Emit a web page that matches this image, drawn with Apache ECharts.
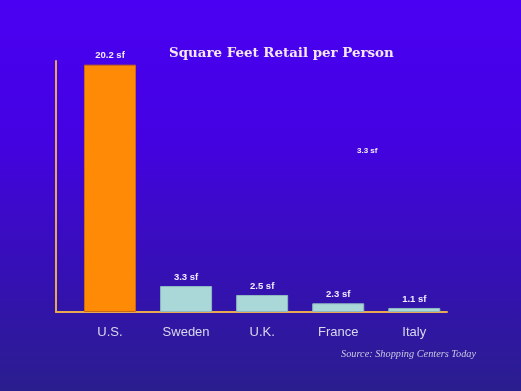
<!DOCTYPE html>
<html>
<head>
<meta charset="utf-8">
<script src="https://cdn.jsdelivr.net/npm/echarts@6/dist/echarts.min.js"></script>
<style>
html,body{margin:0;padding:0;}
#chart{width:521px;height:391px;}
</style>
</head>
<body>
<div id="chart"></div>
<script>
// Categories (countries)
const categories = ['U.S.', 'Sweden', 'U.K.', 'France', 'Italy'];
// Bar heights as drawn in the picture (the original chart is not to scale)
const barHeights = [20.2, 2.12, 1.39, 0.71, 0.33];
// Stated values printed above the bars
const statedValues = [20.2, 3.3, 2.5, 2.3, 1.1];
const unit = ' sf';
const titleText = 'Square Feet Retail per Person';
const sourceText = 'Source: Shopping Centers Today';
const strayLabel = '3.3 sf';

const chart = echarts.init(document.getElementById('chart'), null, {renderer: 'canvas'});

const barData = barHeights.map((v, i) => ({
  value: [i, v],
  itemStyle: i === 0
    ? {color: '#FF8A05', borderColor: '#C86A10', borderWidth: 1}
    : {color: '#AAD8D8', borderColor: '#8FB8C0', borderWidth: 1}
}));

chart.setOption({
  animation: false,
  backgroundColor: {
    type: 'linear', x: 0, y: 0, x2: 0, y2: 1,
    colorStops: [
      {offset: 0, color: '#4A00F2'},
      {offset: 0.35, color: '#4402E2'},
      {offset: 0.7, color: '#3510B4'},
      {offset: 1, color: '#2A1E8E'}
    ]
  },
  grid: {left: 56, top: 61, width: 391, height: 251, containLabel: false},
  xAxis: {
    type: 'value',
    min: -0.71,
    max: 4.43,
    splitLine: {show: false},
    axisTick: {show: false},
    axisLine: {show: true, onZero: false, lineStyle: {color: '#E8A850', width: 2}},
    axisLabel: {
      customValues: [0, 1, 2, 3, 4],
      formatter: v => categories[Math.round(v)] || '',
      color: '#D8D8EC',
      fontFamily: 'Liberation Sans',
      fontSize: 13,
      margin: 14
    }
  },
  yAxis: {
    type: 'value',
    min: 0,
    max: 20.5,
    splitLine: {show: false},
    axisTick: {show: false},
    axisLabel: {show: false},
    axisLine: {show: true, onZero: false, lineStyle: {color: '#E8A850', width: 2}}
  },
  series: [{
    type: 'bar',
    barWidth: 52,
    data: barData,
    z: 1,
    label: {
      show: true,
      position: 'top',
      distance: 4,
      formatter: p => statedValues[p.dataIndex] + unit,
      color: '#F2ECFF',
      fontFamily: 'Liberation Sans',
      fontWeight: 'bold',
      fontSize: 9.5
    }
  }],
  graphic: [
    {
      type: 'text',
      left: 169, top: 47,
      style: {
        text: titleText,
        fill: '#F4E6F4',
        font: 'bold 13.4px "DejaVu Serif"'
      }
    },
    {
      type: 'text',
      left: 357, top: 147,
      style: {
        text: strayLabel,
        fill: '#F2ECFF',
        font: 'bold 8px "Liberation Sans"'
      }
    },
    {
      type: 'text',
      left: 341, top: 349,
      style: {
        text: sourceText,
        fill: '#C8C8E4',
        font: 'italic 10.3px "Liberation Serif"'
      }
    }
  ]
});
</script>
</body>
</html>
